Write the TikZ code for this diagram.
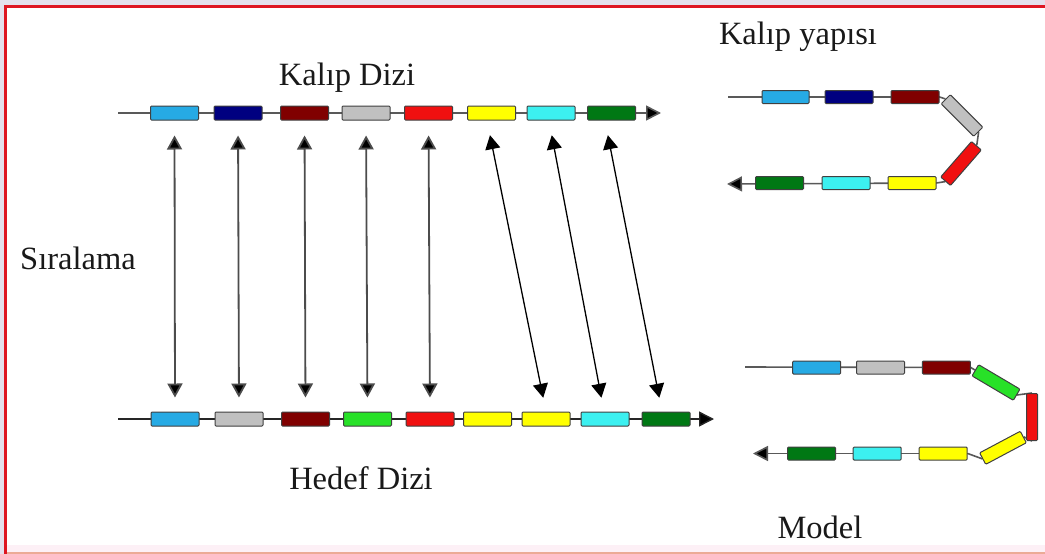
\documentclass[tikz,border=0pt]{standalone}
\usepackage{fontspec}
\setmainfont{Liberation Serif}
\usetikzlibrary{arrows.meta,backgrounds}

\definecolor{skyb}{RGB}{38,170,228}
\definecolor{navyb}{RGB}{0,0,128}
\definecolor{maroon}{RGB}{128,0,0}
\definecolor{silver}{RGB}{192,192,192}
\definecolor{redg}{RGB}{240,16,16}
\definecolor{yellowg}{RGB}{255,255,0}
\definecolor{cyang}{RGB}{60,240,240}
\definecolor{darkg}{RGB}{0,120,20}
\definecolor{limeg}{RGB}{40,225,40}
\definecolor{framered}{RGB}{222,22,34}
\definecolor{lav}{RGB}{228,224,236}
\definecolor{blush}{RGB}{253,240,246}
\definecolor{salmon}{RGB}{236,170,150}

\tikzset{
  gene/.style={draw=black!75, line width=1pt, rounded corners=1pt,
    minimum width=48pt, minimum height=14pt, inner sep=0pt},
  sgene/.style={gene, minimum height=13pt},
  spine/.style={draw=black!65, line width=1.6pt},
  spineend/.style={spine, -{Triangle[length=15pt,width=15pt,fill=black]}},
  headtip/.tip={Triangle[length=14pt,width=15pt,fill=black]},
  match/.style={draw=black!70, line width=1.8pt, headtip-headtip,
    shorten <=15pt, shorten >=14pt},
  slantmatch/.style={match, line width=1.3pt, draw=black},
  lbl/.style={font=\fontsize{32.5}{36}\selectfont, text=black!90, inner sep=0pt, anchor=base}
}

\begin{document}
\begin{tikzpicture}[x=1pt,y=-1pt]
\useasboundingbox (0,0) rectangle (1045,554);

\begin{pgfonlayer}{background}
  % frame
  \fill[lav] (0,0) rectangle (1045,554);
  \fill[white] (5,5) rectangle (1045,554);
  \fill[blush] (5,545) rectangle (1045,554);
  \draw[salmon, line width=1.5pt] (5,553) -- (1045,553);
  \draw[framered, line width=3pt] (5.5,554) -- (5.5,6.5) -- (1045,6.5);
\end{pgfonlayer}

% labels
\node[lbl] (lkd) at (347,85) {Kalıp Dizi};
\node[lbl] (lky) at (798,44) {Kalıp yapısı};
\node[lbl] (lsr) at (78,269) {Sıralama};
\node[lbl] (lhd) at (361,489) {Hedef Dizi};
\node[lbl] (lmd) at (820,538) {Model};

% template sequence
\coordinate (ts) at (118,113);
\coordinate (te) at (661,113);
\node[gene, fill=skyb]   (t1) at (174.5,113) {};
\node[gene, fill=navyb]  (t2) at (238,113) {};
\node[gene, fill=maroon] (t3) at (304.5,113) {};
\node[gene, fill=silver] (t4) at (366,113) {};
\node[gene, fill=redg]   (t5) at (428.5,113) {};
\node[gene, fill=yellowg](t6) at (491.5,113) {};
\node[gene, fill=cyang]  (t7) at (551,113) {};
\node[gene, fill=darkg]  (t8) at (611.5,113) {};

% target sequence
\coordinate (bs) at (118,419);
\coordinate (be) at (714,419);
\node[gene, fill=skyb]   (b1) at (175,419) {};
\node[gene, fill=silver] (b2) at (239,419) {};
\node[gene, fill=maroon] (b3) at (305.5,419) {};
\node[gene, fill=limeg]  (b4) at (367.5,419) {};
\node[gene, fill=redg]   (b5) at (430,419) {};
\node[gene, fill=yellowg](b6) at (487.5,419) {};
\node[gene, fill=yellowg](b7) at (546,419) {};
\node[gene, fill=cyang]  (b8) at (605,419) {};
\node[gene, fill=darkg]  (b9) at (666,419) {};

\begin{pgfonlayer}{background}
  \draw[spineend] (ts) -- (te);
  \draw[spineend, draw=black!85, line width=1.4pt] (bs) -- (be);
\end{pgfonlayer}

% alignment links
\draw[match] (t1.south) -- (b1.north);
\draw[match] (t2.south) -- (b2.north);
\draw[match] (t3.south) -- (b3.north);
\draw[match] (t4.south) -- (b4.north);
\draw[match] (t5.south) -- (b5.north);
\draw[slantmatch] ([xshift=-4.5pt]t6.south) -- (b7.north);
\draw[slantmatch] ([xshift=-2pt]t7.south) -- ([xshift=-1pt]b8.north);
\draw[slantmatch] ([xshift=-6.5pt]t8.south) -- ([xshift=-4pt]b9.north);

% template structure
\coordinate (ks) at (728,97);
\coordinate (ke) at (727,184);
\node[sgene, fill=skyb, minimum width=47pt]   (k1) at (785.5,97) {};
\node[sgene, fill=navyb, minimum width=48pt]  (k2) at (849,97) {};
\node[sgene, fill=maroon, minimum width=48pt] (k3) at (915,97) {};
\node[sgene, fill=silver, rotate=-45, minimum width=46pt] (k4) at (962,115.5) {};
\node[sgene, fill=redg, rotate=49, minimum width=47pt]    (k5) at (961,163.5) {};
\node[sgene, fill=yellowg] (k6) at (912,183) {};
\node[sgene, fill=cyang]   (k7) at (846,183) {};
\node[sgene, fill=darkg]   (k8) at (779.5,183) {};
\begin{pgfonlayer}{background}
  \draw[spine] (ks) -- (k3.east) -- (k4.west);
  \draw[spine] (k4.east) -- (k5.east);
  \draw[spine] (k5.west) -- (k6.east);
  \draw[spineend] (k6.east) -- (ke);
\end{pgfonlayer}

% model structure
\coordinate (ms) at (745,367);
\coordinate (me) at (753,453.5);
\node[sgene, fill=skyb]   (m1) at (816.7,367.5) {};
\node[sgene, fill=silver] (m2) at (880.5,367.5) {};
\node[sgene, fill=maroon] (m3) at (946.3,367.5) {};
\node[sgene, fill=limeg, rotate=-30.6, minimum width=48pt] (m4) at (996,382.5) {};
\node[sgene, fill=redg, rotate=-90, minimum width=47pt, minimum height=11pt] (m5) at (1032,417) {};
\node[sgene, fill=yellowg, rotate=28, minimum width=46pt] (m6) at (1003,447.8) {};
\node[sgene, fill=yellowg] (m7) at (943.2,453.5) {};
\node[sgene, fill=cyang]   (m8) at (877.2,453.5) {};
\node[sgene, fill=darkg]   (m9) at (811.5,453.5) {};
\begin{pgfonlayer}{background}
  \draw[spine] (ms) -- (m3.east) -- (m4.west);
  \draw[spine] (m4.east) -- (m5.west);
  \draw[spine] (m5.east) -- (m6.east);
  \draw[spine] (m6.west) -- (m7.east);
  \draw[spineend] (m7.east) -- (me);
\end{pgfonlayer}
\end{tikzpicture}
\end{document}
